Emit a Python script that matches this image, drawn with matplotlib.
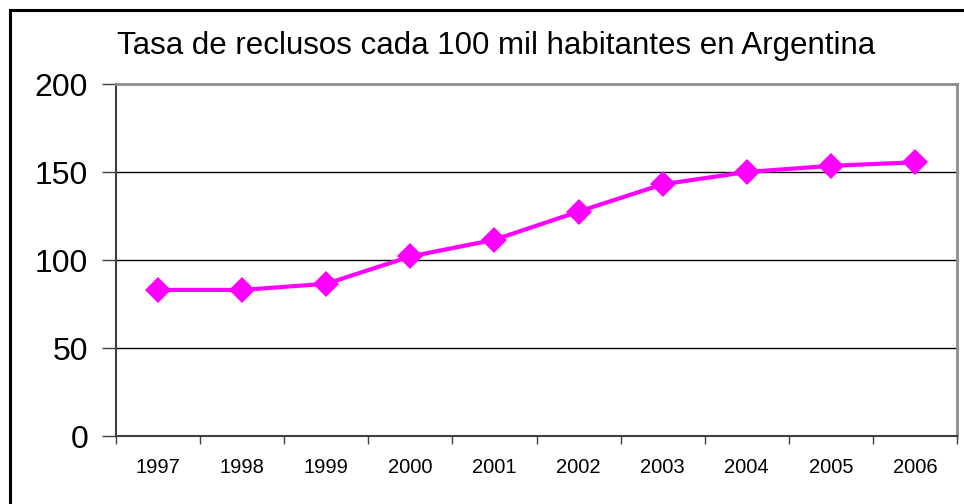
import matplotlib.pyplot as plt
from matplotlib.patches import Rectangle

years = ['1997', '1998', '1999', '2000', '2001', '2002', '2003', '2004', '2005', '2006']
tasa = [83, 83, 86.5, 102, 111.5, 127.5, 143, 150, 153.5, 155.5]
yticks = [0, 50, 100, 150, 200]
title = 'Tasa de reclusos cada 100 mil habitantes en Argentina'

plt.rcParams['font.family'] = ['Liberation Sans', 'DejaVu Sans']

fig = plt.figure(figsize=(9.64, 5.04), dpi=100)
W, H = 964, 504

# outer chart frame (right / bottom edges fall outside the picture)
fig.patches.append(Rectangle((10 / W, -0.1), 1.2, 1 - 10 / H + 0.1,
                             transform=fig.transFigure, fill=False,
                             edgecolor='black', linewidth=2.2, zorder=0))

ax = fig.add_axes([116 / W, (H - 436) / H, (957 - 116) / W, (436 - 84) / H])

x = list(range(len(years)))
ax.plot(x, tasa, color='#FF00FF', linewidth=3, marker='D', markersize=13,
        markeredgewidth=0, zorder=3, clip_on=False)

ax.set_xlim(-0.5, len(years) - 0.5)
ax.set_ylim(0, 200)
ax.set_yticks(yticks)
ax.set_yticklabels([str(v) for v in yticks], fontsize=23)
for v in yticks[1:-1]:
    ax.axhline(v, color='black', linewidth=1, zorder=1)

# category labels centered, tick marks at category boundaries
ax.set_xticks(x)
ax.set_xticklabels(years, fontsize=14.5)
ax.set_xticks([i - 0.5 for i in range(len(years) + 1)], minor=True)
ax.tick_params(axis='x', which='major', length=0, pad=16)
ax.tick_params(axis='x', which='minor', length=6, width=1, color='#404040', direction='out')
ax.tick_params(axis='y', length=10, width=1, color='#404040', pad=10)

for s in ['left', 'bottom']:
    ax.spines[s].set_color('#404040')
    ax.spines[s].set_linewidth(1.5)
for s in ['top', 'right']:
    ax.spines[s].set_color('#8c8c8c')
    ax.spines[s].set_linewidth(2)

fig.text(117 / W, 1 - 46 / H, title, fontsize=22.5, ha='left', va='center')

fig.savefig('out.png', dpi=100)
